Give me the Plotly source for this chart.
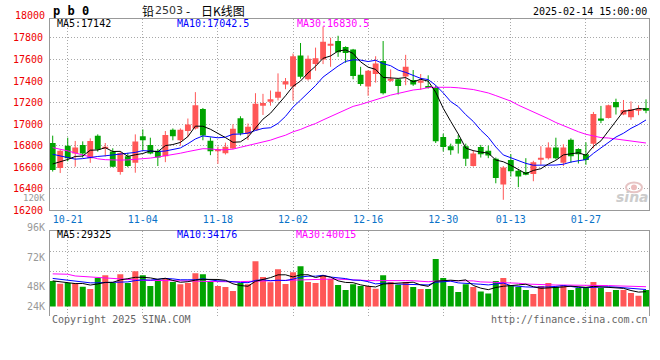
import plotly.graph_objects as go

# ---------------- data ----------------
dates = ["10-17", "10-18", "10-21", "10-22", "10-23", "10-24", "10-25", "10-28", "10-29", "10-30", "10-31",
         "11-01", "11-04", "11-05", "11-06", "11-07", "11-08", "11-11", "11-12", "11-13", "11-14", "11-15",
         "11-18", "11-19", "11-20", "11-21", "11-22", "11-25", "11-26", "11-27", "11-28", "11-29",
         "12-02", "12-03", "12-04", "12-05", "12-06", "12-09", "12-10", "12-11", "12-12", "12-13",
         "12-16", "12-17", "12-18", "12-19", "12-20", "12-23", "12-24", "12-25", "12-26", "12-27", "12-30", "12-31",
         "01-02", "01-03", "01-06", "01-07", "01-08", "01-09", "01-10", "01-13", "01-14", "01-15", "01-16", "01-17",
         "01-20", "01-21", "01-22", "01-23", "01-24", "01-27",
         "02-05", "02-06", "02-07", "02-10", "02-11", "02-12", "02-13", "02-14"]

open_ = [16825, 16592, 16800, 16727, 16807, 16684, 16893, 16775, 16745, 16556,
         16703, 16641, 16887, 16807, 16752, 16703, 16948, 16850, 16936, 16960,
         17140, 16846, 16748, 16730, 16773, 17055, 16908, 16944, 17177, 17214,
         17245, 17367, 17349, 17636, 17416, 17557, 17600, 17734, 17771, 17716,
         17692, 17459, 17349, 17465, 17587, 17404, 17416, 17441, 17410, 17392,
         17355, 17340, 16880, 16795, 16862, 16795, 16611, 16788, 16752, 16678,
         16439, 16666, 16568, 16556, 16537, 16672, 16684, 16782, 16641, 16856,
         16770, 16721, 16819, 17052, 17058, 17205, 17089, 17064, 17126, 17150]
close = [16574, 16752, 16684, 16782, 16727, 16844, 16764, 16790, 16605, 16733,
         16611, 16838, 16850, 16727, 16690, 16899, 16887, 16948, 16997, 17175,
         16895, 16748, 16767, 16791, 16957, 16914, 16975, 17189, 17195, 17232,
         17300, 17398, 17630, 17440, 17606, 17612, 17765, 17740, 17667, 17661,
         17447, 17373, 17495, 17563, 17287, 17422, 17355, 17532, 17367, 17404,
         17336, 16842, 16788, 16758, 16819, 16678, 16727, 16721, 16709, 16500,
         16598, 16562, 16513, 16531, 16647, 16678, 16782, 16684, 16782, 16703,
         16721, 16666, 17095, 17040, 17175, 17156, 17132, 17138, 17132, 17132]
high = [16893, 16764, 16874, 16844, 16840, 16868, 16905, 16825, 16776, 16745,
        16733, 16905, 16951, 16874, 16770, 16936, 16960, 16960, 17052, 17297,
        17150, 16877, 16791, 16828, 16999, 17073, 17006, 17287, 17281, 17312,
        17471, 17428, 17655, 17753, 17637, 17710, 17906, 17802, 17820, 17722,
        17698, 17532, 17502, 17630, 17771, 17508, 17422, 17643, 17502, 17465,
        17453, 17360, 16911, 16819, 16899, 16819, 16758, 16807, 16801, 16690,
        16611, 16721, 16580, 16684, 16660, 16795, 16831, 16874, 16813, 16868,
        16776, 16831, 17113, 17169, 17181, 17236, 17224, 17211, 17175, 17230]
low = [16560, 16546, 16655, 16605, 16690, 16641, 16745, 16700, 16600, 16531,
       16600, 16549, 16752, 16720, 16611, 16647, 16850, 16800, 16880, 16950,
       16850, 16712, 16632, 16718, 16767, 16895, 16852, 16944, 17085, 17171,
       17220, 17324, 17220, 17422, 17404, 17495, 17557, 17532, 17624, 17569,
       17416, 17355, 17263, 17385, 17275, 17392, 17275, 17361, 17355, 17318,
       17330, 16825, 16746, 16715, 16727, 16611, 16605, 16690, 16684, 16451,
       16298, 16513, 16415, 16525, 16470, 16623, 16672, 16672, 16611, 16641,
       16635, 16623, 16776, 17009, 17052, 17089, 17083, 17040, 17083, 17101]
volume = [51700, 46200, 47600, 47600, 40200, 35600, 57700, 63700, 47600, 65700,
          47600, 71800, 63700, 41600, 51700, 57700, 49600, 45000, 47600, 67700,
          65700, 51700, 41600, 39600, 31600, 47600, 45000, 91900, 59700, 49000,
          75800, 45600, 69700, 81800, 49600, 47600, 63700, 55700, 43600, 33600,
          45000, 41600, 41600, 36200, 63700, 49600, 44000, 49600, 39600, 35600,
          35600, 96500, 57700, 41600, 29500, 45000, 39600, 30200, 26100, 51700,
          57700, 43600, 39600, 33600, 25500, 41600, 47600, 39600, 43600, 33600,
          37600, 39600, 49600, 37600, 29500, 33600, 33600, 27500, 21500, 33600]

# moving-average values at the left edge (they depend on history before the window)
ma5_head = [16630, 16650, 16672, 16700]
ma10_head = [16720, 16705, 16690, 16675, 16680, 16692, 16700, 16706, 16714]
ma30_head = [16782, 16770, 16752, 16732, 16712, 16692, 16678, 16670, 16666, 16666,
             16668, 16672, 16678, 16685, 16695, 16705, 16718, 16730, 16745, 16760,
             16772, 16770, 16762, 16762, 16768, 16785, 16800, 16818, 16836]
vma5_head = [52000, 50000, 48000, 46500]
vma10_head = [57000, 55000, 52500, 50500, 49000, 48000, 48000, 48500, 49500]
vma30_head = [66300, 66000, 65500, 62000, 61000, 59000, 58000, 57000, 56000, 55000,
              54000, 53500, 53000, 53000, 53000, 53000, 53000, 52500, 52000, 51700,
              51000, 50500, 50000, 50000, 50000, 50500, 51000, 51500, 52000]

x_labels = ["10-21", "11-04", "11-18", "12-02", "12-16", "12-30", "01-13", "01-27"]
price_ticks = [16200, 16400, 16600, 16800, 17000, 17200, 17400, 17600, 17800]
vol_labels = ["96K", "72K", "48K", "24K"]

title_code = "p b 0"
title_parts = ["铅", "2503", "-", "日K线图"]
stamp = "2025-02-14 15:00:00"
ma_price_text = ["MA5:17142", "MA10:17042.5", "MA30:16830.5"]
ma_vol_text = ["MA5:29325", "MA10:34176", "MA30:40015"]


def moving_avg(series, n, head):
    out = []
    for i in range(len(series)):
        if i < len(head):
            out.append(head[i])
        else:
            out.append(sum(series[i - n + 1:i + 1]) / n)
    return out


# ---------------- figure ----------------
W, H = 660, 360
RED = "#ff5757"
GREEN = "#00a400"
MONO = "DejaVu Sans Mono"
n = len(close)
idx = list(range(n))
is_up = [c >= o for o, c in zip(open_, close)]
colors = [RED if u else GREEN for u in is_up]

fig = go.Figure()

# wicks
for col, flag in ((RED, True), (GREEN, False)):
    wx, wy = [], []
    for i in idx:
        if is_up[i] == flag:
            wx += [i, i, None]
            wy += [low[i], high[i], None]
    fig.add_trace(go.Scatter(x=wx, y=wy, mode="lines", line=dict(color=col, width=1),
                             hoverinfo="skip", showlegend=False, xaxis="x", yaxis="y"))

# bodies
bases = [min(o, c) for o, c in zip(open_, close)]
heights = [max(abs(c - o), 9) for o, c in zip(open_, close)]
fig.add_trace(go.Bar(x=idx, y=heights, base=bases, width=0.78, marker=dict(color=colors, line=dict(width=0)),
                     showlegend=False, xaxis="x", yaxis="y"))

# price MAs
for vals, col in ((moving_avg(close, 30, ma30_head), "#ff00ff"),
                  (moving_avg(close, 10, ma10_head), "#0000ff"),
                  (moving_avg(close, 5, ma5_head), "#000000")):
    fig.add_trace(go.Scatter(x=idx, y=vals, mode="lines", line=dict(color=col, width=1),
                             showlegend=False, xaxis="x", yaxis="y"))

# volume bars
fig.add_trace(go.Bar(x=idx, y=volume, width=0.8, marker=dict(color=colors, line=dict(width=0)),
                     showlegend=False, xaxis="x2", yaxis="y2"))
for vals, col in ((moving_avg(volume, 30, vma30_head), "#ff00ff"),
                  (moving_avg(volume, 10, vma10_head), "#0000ff"),
                  (moving_avg(volume, 5, vma5_head), "#000000")):
    fig.add_trace(go.Scatter(x=idx, y=vals, mode="lines", line=dict(color=col, width=1),
                             showlegend=False, xaxis="x2", yaxis="y2"))

x_dom = [50 / W, 649.3 / W]
x_rng = [-0.36, n - 1 + 0.44]
tickvals = [dates.index(d) for d in x_labels]
GRID = "#a8a8a8"
DASH = "1px,2px"
AXIS = "#999999"

fig.update_layout(
    width=W, height=H, margin=dict(l=0, r=0, t=0, b=0),
    paper_bgcolor="white", plot_bgcolor="white",
    showlegend=False, barmode="overlay",
    xaxis=dict(domain=x_dom, range=x_rng, anchor="y", tickmode="array", tickvals=tickvals, ticktext=x_labels,
               showgrid=True, gridcolor=GRID, griddash=DASH, gridwidth=1, zeroline=False,
               showline=True, mirror=True, linecolor=AXIS, linewidth=1, ticks="",
               tickfont=dict(family=MONO, size=10, color="#0a73c8"), ticklabelstandoff=0, fixedrange=True),
    yaxis=dict(domain=[1 - 213.3 / H, 1 - 19 / H], range=[16200, 17978], anchor="x",
               tickmode="array", tickvals=price_ticks, ticktext=[str(v) for v in price_ticks],
               showgrid=True, gridcolor=GRID, griddash=DASH, gridwidth=1, zeroline=False,
               showline=True, mirror=True, linecolor=AXIS, linewidth=1, ticks="",
               tickfont=dict(family=MONO, size=10, color="#ee0000"), ticklabelstandoff=4, fixedrange=True),
    xaxis2=dict(domain=x_dom, range=x_rng, anchor="y2", side="top", tickmode="array", tickvals=tickvals,
                showticklabels=False, showgrid=True, gridcolor=GRID, griddash=DASH, gridwidth=1,
                zeroline=False, showline=True, linecolor=AXIS, linewidth=1, ticks="", fixedrange=True),
    yaxis2=dict(domain=[1 - 320 / H, 1 - 234.3 / H], range=[-18700, 153600], anchor="x2",
                tickmode="array", tickvals=[71200, 111400], showticklabels=False,
                showgrid=True, gridcolor=GRID, griddash=DASH, gridwidth=1, zeroline=False,
                showline=True, mirror=True, linecolor=AXIS, linewidth=1, ticks="", fixedrange=True),
)


def ann(x, y, text, color="#000", size=10, anchor="left", family=MONO, **kw):
    fig.add_annotation(xref="paper", yref="paper", x=x / W, y=1 - y / H, text=text, showarrow=False,
                       xanchor=anchor, yanchor="middle", font=dict(family=family, size=size, color=color), **kw)


CJK = "Noto Sans CJK SC"
# header
ann(51, 11, "<b>" + title_code + "</b>", size=12)
ann(140, 10.5, title_parts[0], size=12, family=CJK)
ann(153, 10.5, title_parts[1], size=11, family="DejaVu Sans", color="#333333")
ann(187.5, 10.5, title_parts[2], size=12, family=CJK, anchor="center")
ann(199, 10.5, title_parts[3], size=12, family=CJK)
ann(649, 12, stamp, anchor="right")

# extra axis labels
ann(46.5, 15.6, "18000", color="#ee0000", anchor="right")
ann(46.5, 201, "120K", color="#999999", anchor="right", size=9)
for lab, y in zip(vol_labels, [230.3, 261, 291, 310.7]):
    ann(46.5, y, lab, color="#999999", anchor="right")

# MA legends
for txt, x, col in zip(ma_price_text, [55, 175, 295], ["#000000", "#0000ff", "#ff00ff"]):
    ann(x, 24, txt, color=col)
for txt, x, col in zip(ma_vol_text, [55, 175, 294], ["#000000", "#0000ff", "#ff00ff"]):
    ann(x, 238.3, txt, color=col)

# footer
ann(50, 323.5, "Copyright 2025 SINA.COM", color="#666666")
ann(649.5, 323.5, "http://finance.sina.com.cn", color="#666666", anchor="right")

# watermark (eye logo + text)
fig.add_shape(type="circle", xref="paper", yref="paper", x0=626 / W, x1=642 / W,
              y0=1 - 195 / H, y1=1 - 185 / H, line=dict(color="#e6c4c4", width=2), fillcolor="rgba(0,0,0,0)")
fig.add_shape(type="circle", xref="paper", yref="paper", x0=631 / W, x1=637 / W,
              y0=1 - 193 / H, y1=1 - 187 / H, line=dict(width=0), fillcolor="#ecbcbc")
ann(651, 200, "<b><i>sina</i></b>", color="#cccccc", size=14, anchor="right", family="DejaVu Sans")

fig.write_html("out.html", config={"displayModeBar": False},
               post_script="document.body.style.margin='0';document.body.style.padding='0';")
